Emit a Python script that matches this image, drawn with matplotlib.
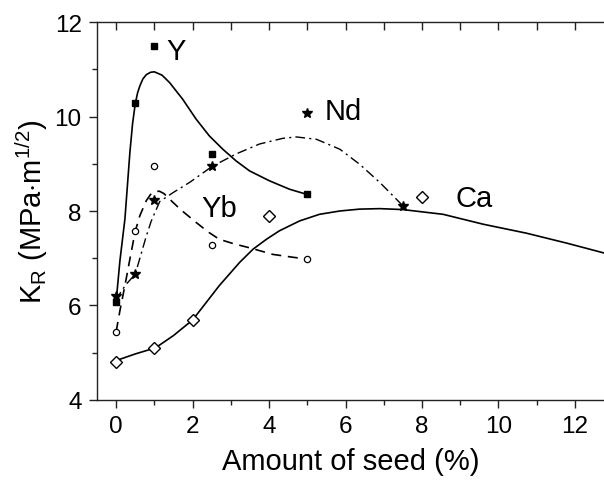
import matplotlib
matplotlib.use("Agg")
import matplotlib.pyplot as plt
from matplotlib.ticker import MultipleLocator

plt.rcParams['font.family'] = ['Liberation Sans', 'DejaVu Sans']
plt.rcParams['mathtext.fontset'] = 'custom'
plt.rcParams['mathtext.rm'] = 'Liberation Sans'

# measured points
seed_pts = [0, 0.5, 1, 2.5, 5]
y_pts = [6.08, 10.29, 11.49, 9.21, 8.35]
yb_pts = [5.44, 7.57, 8.96, 7.28, 6.98]
nd_x = [0, 0.5, 1, 2.5, 5, 7.5]
nd_pts = [6.2, 6.66, 8.23, 8.96, 10.07, 8.11]
ca_x = [0, 1, 2, 4, 8]
ca_pts = [4.81, 5.10, 5.69, 7.89, 8.29]

# fitted curves
y_fit_x = [0, 0.1, 0.23, 0.36, 0.43, 0.5, 0.56, 0.62, 0.7, 0.79, 0.9, 1.0, 1.2, 1.4, 1.74, 2.09, 2.44,
           2.79, 3.14, 3.49, 4.01, 4.54, 5.0]
y_fit = [6.08, 6.95, 7.83, 9.24, 9.85, 10.27, 10.5, 10.65, 10.8, 10.89, 10.94, 10.95, 10.88, 10.72, 10.37,
         9.95, 9.59, 9.31, 9.06, 8.85, 8.64, 8.46, 8.35]

yb_fit_x = [0, 0.1, 0.23, 0.36, 0.5, 0.62, 0.79, 0.9, 1.01, 1.13, 1.25, 1.4, 1.7, 2.09, 2.4, 2.7, 3.1,
            3.49, 4.1, 4.62, 5.0]
yb_fit = [5.44, 5.89, 6.42, 6.98, 7.57, 7.90, 8.22, 8.35, 8.41, 8.42, 8.37, 8.25, 8.02, 7.76, 7.56, 7.40,
          7.30, 7.22, 7.08, 7.02, 6.98]

nd_fit_x = [0, 0.14, 0.3, 0.5, 0.65, 0.79, 0.92, 1.14, 1.49, 1.93, 2.5, 3.14, 3.75, 4.36, 4.71, 5.24,
            5.85, 6.37, 6.89, 7.33, 7.5]
nd_fit = [6.1, 6.31, 6.48, 6.66, 7.08, 7.47, 7.79, 8.2, 8.39, 8.61, 8.94, 9.21, 9.42, 9.54, 9.57, 9.52,
          9.31, 8.99, 8.61, 8.25, 8.11]

ca_fit_x = [0, 0.5, 1.03, 1.5, 2.0, 2.25, 2.7, 3.23, 3.58, 3.93, 4.27, 4.8, 5.32, 5.85, 6.37, 6.9, 7.5,
            8.55, 9.6, 10.73, 11.78, 12.76]
ca_fit = [4.83, 4.97, 5.10, 5.36, 5.69, 5.95, 6.42, 6.91, 7.19, 7.40, 7.58, 7.79, 7.93, 8.0, 8.04, 8.05,
          8.03, 7.93, 7.72, 7.53, 7.32, 7.11]

fig = plt.figure(figsize=(6.04, 4.81), dpi=100)
ax = fig.add_axes([0.1606, 0.1669, 0.8394, 0.7847])

# curves
ax.plot(y_fit_x, y_fit, color='black', lw=1.2)
ax.plot(yb_fit_x, yb_fit, color='black', lw=1.2, dashes=(6, 4))
ax.plot(nd_fit_x, nd_fit, color='black', lw=1.0, dashes=(7, 3, 1.5, 3))
ax.plot(ca_fit_x, ca_fit, color='black', lw=1.2)

# markers
ax.plot(seed_pts, y_pts, ls='none', marker='s', ms=5, color='black')
ax.plot(seed_pts, yb_pts, ls='none', marker='o', ms=4.5, mfc='white', mec='black', mew=0.9)
ax.plot(nd_x, nd_pts, ls='none', marker='*', ms=7, color='black')
ax.plot(ca_x, ca_pts, ls='none', marker='D', ms=6, mfc='white', mec='black', mew=1.0)

# series labels
ax.text(1.32, 11.22, 'Y', fontsize=21, ha='left', va='baseline')
ax.text(5.45, 9.96, 'Nd', fontsize=21, ha='left', va='baseline')
ax.text(2.23, 7.90, 'Yb', fontsize=21, ha='left', va='baseline')
ax.text(8.88, 8.11, 'Ca', fontsize=21, ha='left', va='baseline')

ax.set_xlim(-0.5, 12.76)
ax.set_ylim(4, 12)
ax.xaxis.set_major_locator(MultipleLocator(2))
ax.xaxis.set_minor_locator(MultipleLocator(1))
ax.yaxis.set_major_locator(MultipleLocator(2))
ax.yaxis.set_minor_locator(MultipleLocator(1))

ax.spines['right'].set_visible(False)
for s in ['left', 'bottom', 'top']:
    ax.spines[s].set_linewidth(1.0)
    ax.spines[s].set_color('#222222')

ax.tick_params(which='both', direction='out', top=False, right=False, labelsize=17.5, width=1.0, color='#222222')
ax.tick_params(which='major', length=6, pad=5)
ax.tick_params(which='minor', length=3.5)

# inward ticks along the top spine
top = ax.secondary_xaxis('top')
top.xaxis.set_major_locator(MultipleLocator(1))
top.tick_params(direction='in', length=6, width=1.0, labeltop=False, color='#222222')
top.spines['top'].set_visible(False)

ax.set_xlabel('Amount of seed (%)', fontsize=21, labelpad=7)
ax.set_ylabel(r'K$_\mathregular{R}$ (MPa$\cdot$m$^\mathregular{1/2}$)', fontsize=21, labelpad=3)

fig.savefig('out.png', dpi=100)
